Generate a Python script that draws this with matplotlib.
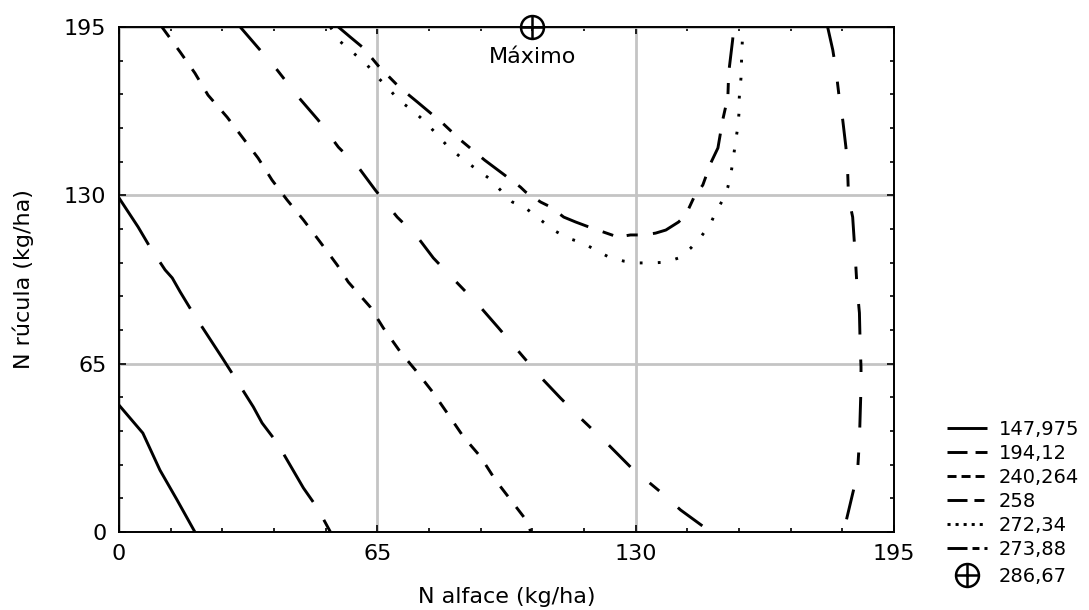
import matplotlib
matplotlib.use("Agg")
import matplotlib.pyplot as plt
from matplotlib.lines import Line2D
from matplotlib.ticker import MultipleLocator

plt.rcParams['font.family'] = ['DejaVu Sans']
plt.rcParams['lines.scale_dashes'] = False

# ---------------- data ----------------
level_labels = ["147,975", "194,12", "240,264", "258", "272,34", "273,88"]
max_label = "286,67"
max_x = 104.0
max_y = 195.0
axis_ticks = [0, 65, 130, 195]

c1_x = [0, 6.0, 10.3, 14.6, 19.1]
c1_y = [49, 38.2, 23.9, 12.4, 0]

c2_x = [0, 4.8, 7.8, 11.6, 13.4, 15.4, 18.6, 26.0, 29.2, 33.8, 36.0, 39.8, 46.4, 49.9, 53.2]
c2_y = [129, 117.8, 110, 101.2, 98.1, 92.7, 84.6, 67.2, 59.5, 48.3, 42.1, 34.4, 17.0, 9.3, 0]

c3_x = [10.8, 15.4, 19.1, 22.4, 27.2, 31.0, 35.0, 38.5, 42.3, 46.4, 50.6, 54.9, 57.7,
        63.2, 66.5, 70.8, 74.6, 78.9, 82.6, 86.7, 91.0, 94.7, 98.0, 102.8, 103.6]
c3_y = [195, 185.3, 177.2, 168.7, 160.2, 152.5, 144.4, 135.9, 128.2, 120.5, 112.0, 103.1, 96.5,
        86.9, 78.8, 69.5, 62.5, 54.1, 45.9, 36.7, 29.0, 20.1, 13.5, 3.9, 0]

c4a_x = [30.5, 35.5, 39.8, 45.1, 50.1, 55.2, 60.2, 64.5, 70.0, 75.1, 79.1, 83.9, 90.5, 95.5,
         101.5, 106.1, 111.1, 116.1, 123.2, 128.7, 136.3, 141.3, 148.9]
c4a_y = [195, 186.1, 178.4, 168.0, 159.1, 148.6, 140.9, 132.0, 121.6, 113.9, 105.8, 98.1, 87.6, 78.8,
         68.0, 59.8, 51.7, 44.0, 33.6, 25.1, 15.4, 8.5, 0]

c4b_x = [178.3, 179.6, 180.4, 181.2, 182.1, 182.9, 183.3, 183.5, 183.7, 184.6, 185.2, 185.7, 186.3,
         186.5, 186.7, 186.7, 186.5, 186.3, 185.9, 185.0, 182.3]
c4b_y = [195, 186.1, 178.4, 168.0, 159.1, 148.6, 140.9, 132.0, 128.2, 121.6, 107.7, 94.6, 84.6,
         71.4, 63.7, 56.0, 45.9, 35.5, 25.1, 17.4, 0]

c5_x = [53.2, 55.2, 58.7, 62.0, 65.0, 67.8, 70.3, 73.8, 77.1, 80.1, 82.9, 85.9, 89.2, 93.0, 96.0,
        99.0, 102.3, 106.1, 109.3, 112.9, 116.7, 119.9, 123.2, 127.0, 130.5, 134.3, 137.6, 140.8,
        143.9, 146.4, 148.9, 150.2, 151.9, 153.2, 153.9, 154.4, 155.2, 155.7, 156.0, 156.0, 156.2,
        156.5, 156.7, 157.0]
c5_y = [195, 190.0, 185.3, 181.1, 175.7, 171.4, 166.8, 162.9, 158.3, 153.3, 148.6, 144.8, 140.9, 136.7, 132.0,
        127.4, 125.1, 120.5, 116.6, 113.5, 111.6, 108.9, 106.2, 104.6, 103.9, 103.9, 104.2, 105.8,
        109.7, 113.9, 119.3, 123.6, 128.2, 133.2, 137.8, 142.5, 151.4, 156.4, 161.8, 166.0, 170.7,
        175.3, 184.9, 195]

c6_x = [55.2, 58.2, 61.5, 65.3, 70.5, 75.1, 81.4, 85.9, 92.0, 96.7, 101.0, 102.3, 106.1, 108.6,
        111.9, 114.9, 118.2, 125.5, 128.7, 131.8, 135.0, 137.6, 140.8, 142.6, 144.6, 146.9, 148.9,
        150.7, 151.9, 153.2, 153.4, 154.4, 154.7]
c6_y = [195, 191.1, 186.9, 179.9, 171.8, 166.0, 157.9, 151.4, 143.6, 138.2, 133.2, 131.3, 127.4, 125.5,
        121.6, 119.7, 117.8, 113.9, 114.7, 114.7, 115.4, 116.6, 119.7, 122.4, 129.0, 134.0, 142.5,
        148.3, 159.1, 168.0, 177.2, 190.0, 195]

# ---------------- styles ----------------
LW = 2.1
plot_styles = [
    '-',
    (0, (40, 15)),
    (0, (9, 9.7)),
    (0, (22, 18, 9, 18)),
    (0, (2, 11)),
    (0, (22, 11, 8, 10, 8, 11)),
]
legend_styles = [
    '-',
    (0, (14.4, 5.8)),
    (0, (6.5, 3.6)),
    (0, (14.4, 5, 7.2, 5)),
    (0, (2.2, 3.6)),
    (0, (14.4, 3.6, 5, 3.6, 2.2, 3.6)),
]

fig = plt.figure(figsize=(10.89, 6.10), dpi=100)
ax = fig.add_axes([119 / 1089, 78 / 610, 775 / 1089, 505 / 610])

contours = [
    [(c1_x, c1_y)],
    [(c2_x, c2_y)],
    [(c3_x, c3_y)],
    [(c4a_x, c4a_y), (c4b_x, c4b_y)],
    [(c5_x, c5_y)],
    [(c6_x, c6_y)],
]
for branches, ls in zip(contours, plot_styles):
    for xs, ys in branches:
        ax.plot(xs, ys, color='black', lw=LW, linestyle=ls,
                dash_capstyle='butt', solid_capstyle='butt', zorder=3)

# maximum marker
ax.plot([max_x], [max_y], marker='o', ms=16.5, mfc='none', mec='black', mew=1.8,
        linestyle='none', clip_on=False, zorder=6)
ax.plot([max_x], [max_y], marker='+', ms=16.5, mec='black', mew=1.8,
        linestyle='none', clip_on=False, zorder=6)
ax.text(max_x, 181, "Máximo", ha='center', va='baseline', fontsize=16, zorder=6)

ax.set_xlim(0, 195)
ax.set_ylim(0, 195)
ax.set_xticks(axis_ticks)
ax.set_yticks(axis_ticks)
ax.xaxis.set_minor_locator(MultipleLocator(13))
ax.yaxis.set_minor_locator(MultipleLocator(13))
ax.tick_params(which='both', direction='in', top=True, right=True, color='black', width=1.2)
ax.tick_params(which='major', length=5, labelsize=16, pad=9)
ax.tick_params(which='minor', length=3)
ax.grid(True, which='major', color='#c4c4c4', lw=2)
ax.set_axisbelow(True)
for sp in ax.spines.values():
    sp.set_linewidth(1.4)
    sp.set_zorder(5)

ax.set_xlabel("N alface (kg/ha)", fontsize=16, labelpad=16)
ax.set_ylabel("N rúcula (kg/ha)", fontsize=16, labelpad=21.5)

# legend: contour levels
handles = [Line2D([0], [0], color='black', lw=LW, linestyle=ls,
                  dash_capstyle='butt', solid_capstyle='butt') for ls in legend_styles]
fig.legend(handles, level_labels, loc='upper left', bbox_to_anchor=(947 / 1089, 1 - 420 / 610),
           frameon=False, fontsize=14, handlelength=2.06, handletextpad=0.6,
           labelspacing=0.26, borderpad=0, borderaxespad=0)

# legend: maximum marker
h_circ = Line2D([0], [0], marker='o', ms=16.5, mfc='none', mec='black', mew=1.8, linestyle='none')
h_plus = Line2D([0], [0], marker='+', ms=16.5, mec='black', mew=1.8, linestyle='none')
fig.legend([(h_circ, h_plus)], [max_label], loc='upper left',
           bbox_to_anchor=(947 / 1089, 1 - 567 / 610),
           frameon=False, fontsize=14, handlelength=2.06, handletextpad=0.6,
           borderpad=0, borderaxespad=0)

fig.savefig("out.png", dpi=100)
